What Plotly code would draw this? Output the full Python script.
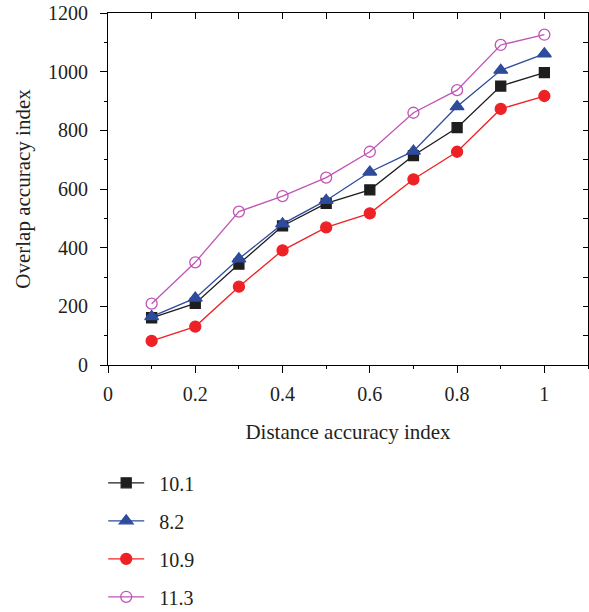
import plotly.graph_objects as go

# ---- data ----
x_vals = [0.1, 0.2, 0.3, 0.4, 0.5, 0.6, 0.7, 0.8, 0.9, 1.0]
series_names = ["10.1", "8.2", "10.9", "11.3"]
s_10_1 = [161, 210, 344, 474, 551, 597, 714, 809, 951, 997]
s_8_2 = [165, 228, 362, 481, 561, 658, 729, 881, 1005, 1061]
s_10_9 = [82, 131, 267, 391, 469, 517, 633, 727, 873, 917]
s_11_3 = [209, 350, 523, 576, 639, 727, 860, 937, 1091, 1126]
x_ticks = [0, 0.2, 0.4, 0.6, 0.8, 1]
x_ticktext = ["0", "0.2", "0.4", "0.6", "0.8", "1"]
y_ticks = [0, 200, 400, 600, 800, 1000, 1200]

FONT = "Liberation Serif"
TXT = "#231f20"

styles = [
    dict(color="#1e1e1e", symbol="square", size=10, fill="#1e1e1e"),
    dict(color="#2e4b9c", symbol="triangle-up", size=12, fill="#2e4b9c"),
    dict(color="#ee2226", symbol="circle", size=11, fill="#ee2226"),
    dict(color="#c055b4", symbol="circle-open", size=11, fill="#c055b4"),
]

fig = go.Figure()
for name, ys, st in zip(series_names, [s_10_1, s_8_2, s_10_9, s_11_3], styles):
    fig.add_trace(go.Scatter(
        x=x_vals, y=ys, name="\u00a0\u00a0" + name, mode="lines+markers",
        legendgroup=name,
        line=dict(color=st["color"], width=1.3),
        marker=dict(symbol=st["symbol"], size=st["size"], color=st["fill"],
                    line=dict(color=st["color"], width=1.3)),
    ))

# invisible trace to activate mirrored top/right axes
fig.add_trace(go.Scatter(x=[None], y=[None], xaxis="x2", yaxis="y2",
                         showlegend=False, hoverinfo="skip"))

axis_common = dict(showline=True, linecolor="black", linewidth=1.2,
                   showgrid=False, zeroline=False, tickcolor="black",
                   tickwidth=1.1)

fig.update_layout(
    width=589, height=612,
    margin=dict(l=108, r=1, t=13, b=247),
    paper_bgcolor="white", plot_bgcolor="white",
    font=dict(family=FONT, size=20, color=TXT),
    xaxis=dict(range=[0, 1.1], tickvals=x_ticks, ticktext=x_ticktext,
               ticks="outside", ticklen=7, ticklabelstandoff=4,
               minor=dict(dtick=0.1, tick0=0, ticks="outside", ticklen=3,
                          tickcolor="black", showgrid=False),
               title=dict(text="Distance accuracy index",
                          font=dict(size=21), standoff=20),
               **axis_common),
    yaxis=dict(range=[0, 1200], tickvals=y_ticks,
               ticks="outside", ticklen=7, ticklabelstandoff=8,
               minor=dict(dtick=100, tick0=0, ticks="outside", ticklen=3,
                          tickcolor="black", showgrid=False),
               title=dict(text="Overlap accuracy index",
                          font=dict(size=21), standoff=11),
               **axis_common),
    xaxis2=dict(overlaying="x", side="top", range=[0, 1.1], dtick=0.1,
                tick0=0, ticks="inside", ticklen=6, showticklabels=False,
                **axis_common),
    yaxis2=dict(overlaying="y", side="right", range=[0, 1200], dtick=100,
                tick0=0, ticks="inside", ticklen=5, showticklabels=False,
                **axis_common),
    legend=dict(x=-0.010, xanchor="left", xref="paper",
                y=0.243, yanchor="top", yref="container",
                orientation="v", tracegroupgap=9, itemwidth=36,
                bgcolor="rgba(0,0,0,0)", font=dict(size=20, color=TXT)),
    showlegend=True,
)

fig.write_html("out.html")
